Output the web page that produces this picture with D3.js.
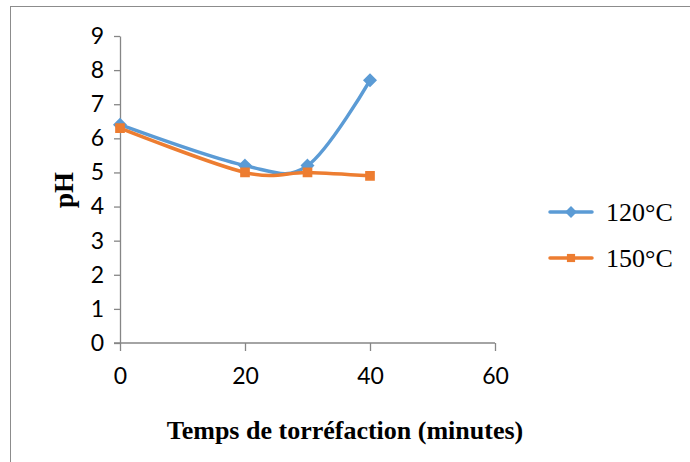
<!DOCTYPE html>
<html>
<head>
<meta charset="utf-8">
<script src="https://cdn.jsdelivr.net/npm/d3@7"></script>
<style>
  body { margin: 0; background: #fff; }
  svg { display: block; }
</style>
</head>
<body>
<div id="chart"></div>
<script>
var minutes = [0, 20, 30, 40];
var ph120 = [6.4, 5.2, 5.2, 7.7];
var ph150 = [6.3, 5.0, 5.0, 4.9];
var seriesNames = ['120°C', '150°C'];
var xTicks = [0, 20, 40, 60];
var yTicks = [0, 1, 2, 3, 4, 5, 6, 7, 8, 9];

function drawChart(dom, options) {
    var width = options.width || 690;
    var height = options.height || 462;
    var left = 120, right = 495, top = 36, bottom = 343;
    var axisColor = '#868686';

    var svg = d3.select(dom).append('svg')
            .attr('width', width)
            .attr('height', height);

    // frame
    svg.append('rect')
            .attr('x', 10.5).attr('y', 6.5)
            .attr('width', width).attr('height', height)
            .style('fill', 'none')
            .style('stroke', '#8c8c8c')
            .style('stroke-width', 1);

    var x = d3.scaleLinear().domain([0, 60]).range([left, right]);
    var y = d3.scaleLinear().domain([0, 9]).range([bottom, top]);

    var yAxis = svg.append('g')
            .attr('transform', 'translate(' + left + ',0)')
            .call(d3.axisLeft(y).tickValues(yTicks).tickSize(6).tickPadding(10).tickSizeOuter(0));
    var xAxis = svg.append('g')
            .attr('transform', 'translate(0,' + bottom + ')')
            .call(d3.axisBottom(x).tickValues(xTicks).tickSize(8).tickPadding(17).tickSizeOuter(0));

    [xAxis, yAxis].forEach(function (a) {
        a.selectAll('path, line').style('stroke', axisColor).style('stroke-width', 1.3);
        a.selectAll('text')
                .style('font-family', 'Lato, "Open Sans", sans-serif')
                .style('font-size', '23px')
                .style('fill', '#000');
    });
    // x axis line starts a little left of the y axis
    xAxis.select('.domain').attr('d', 'M' + (left - 6) + ',0H' + right);

    var line = d3.line()
            .x(function (d) { return x(d[0]); })
            .y(function (d) { return y(d[1]); })
            .curve(d3.curveCatmullRom.alpha(0));

    var series = [
        {name: seriesNames[0], values: ph120, color: '#5B9BD5', symbol: d3.symbolDiamond2},
        {name: seriesNames[1], values: ph150, color: '#ED7D31', symbol: d3.symbolSquare2}
    ];

    series.forEach(function (s) {
        var pts = minutes.map(function (m, i) { return [m, s.values[i]]; });
        svg.append('path')
                .datum(pts)
                .attr('d', line)
                .style('fill', 'none')
                .style('stroke', s.color)
                .style('stroke-width', 3.5)
                .style('stroke-linejoin', 'round');
        svg.selectAll(null)
                .data(pts)
                .enter()
                .append('path')
                .attr('transform', function (d) { return 'translate(' + x(d[0]) + ',' + y(d[1]) + ')'; })
                .attr('d', d3.symbol().type(s.symbol).size(s.symbol === d3.symbolSquare2 ? 85 : 90))
                .style('fill', s.color)
                .style('stroke', s.color)
                .style('stroke-width', 1.5);
    });

    // legend
    var legend = svg.append('g');
    series.forEach(function (s, i) {
        var ly = 212 + i * 46;
        legend.append('line')
                .attr('x1', 550).attr('x2', 592)
                .attr('y1', ly).attr('y2', ly)
                .style('stroke', s.color)
                .style('stroke-width', 3.5)
                .style('stroke-linecap', 'round');
        legend.append('path')
                .attr('transform', 'translate(571,' + ly + ')')
                .attr('d', d3.symbol().type(s.symbol).size(s.symbol === d3.symbolSquare2 ? 85 : 90))
                .style('fill', s.color);
        legend.append('text')
                .attr('x', 606).attr('y', ly + 9)
                .style('font-family', '"Liberation Serif", "Times New Roman", serif')
                .style('font-size', '26px')
                .text(s.name);
    });

    // axis titles
    svg.append('text')
            .attr('transform', 'translate(73,190) rotate(-90)')
            .attr('text-anchor', 'middle')
            .style('font-family', '"Liberation Serif", "Times New Roman", serif')
            .style('font-weight', 'bold')
            .style('font-size', '27px')
            .text('pH');
    svg.append('text')
            .attr('x', 345).attr('y', 439)
            .attr('text-anchor', 'middle')
            .style('font-family', '"Liberation Serif", "Times New Roman", serif')
            .style('font-weight', 'bold')
            .style('font-size', '26px')
            .text('Temps de torréfaction (minutes)');
}

drawChart('#chart', {width: 690, height: 462});
</script>
</body>
</html>
